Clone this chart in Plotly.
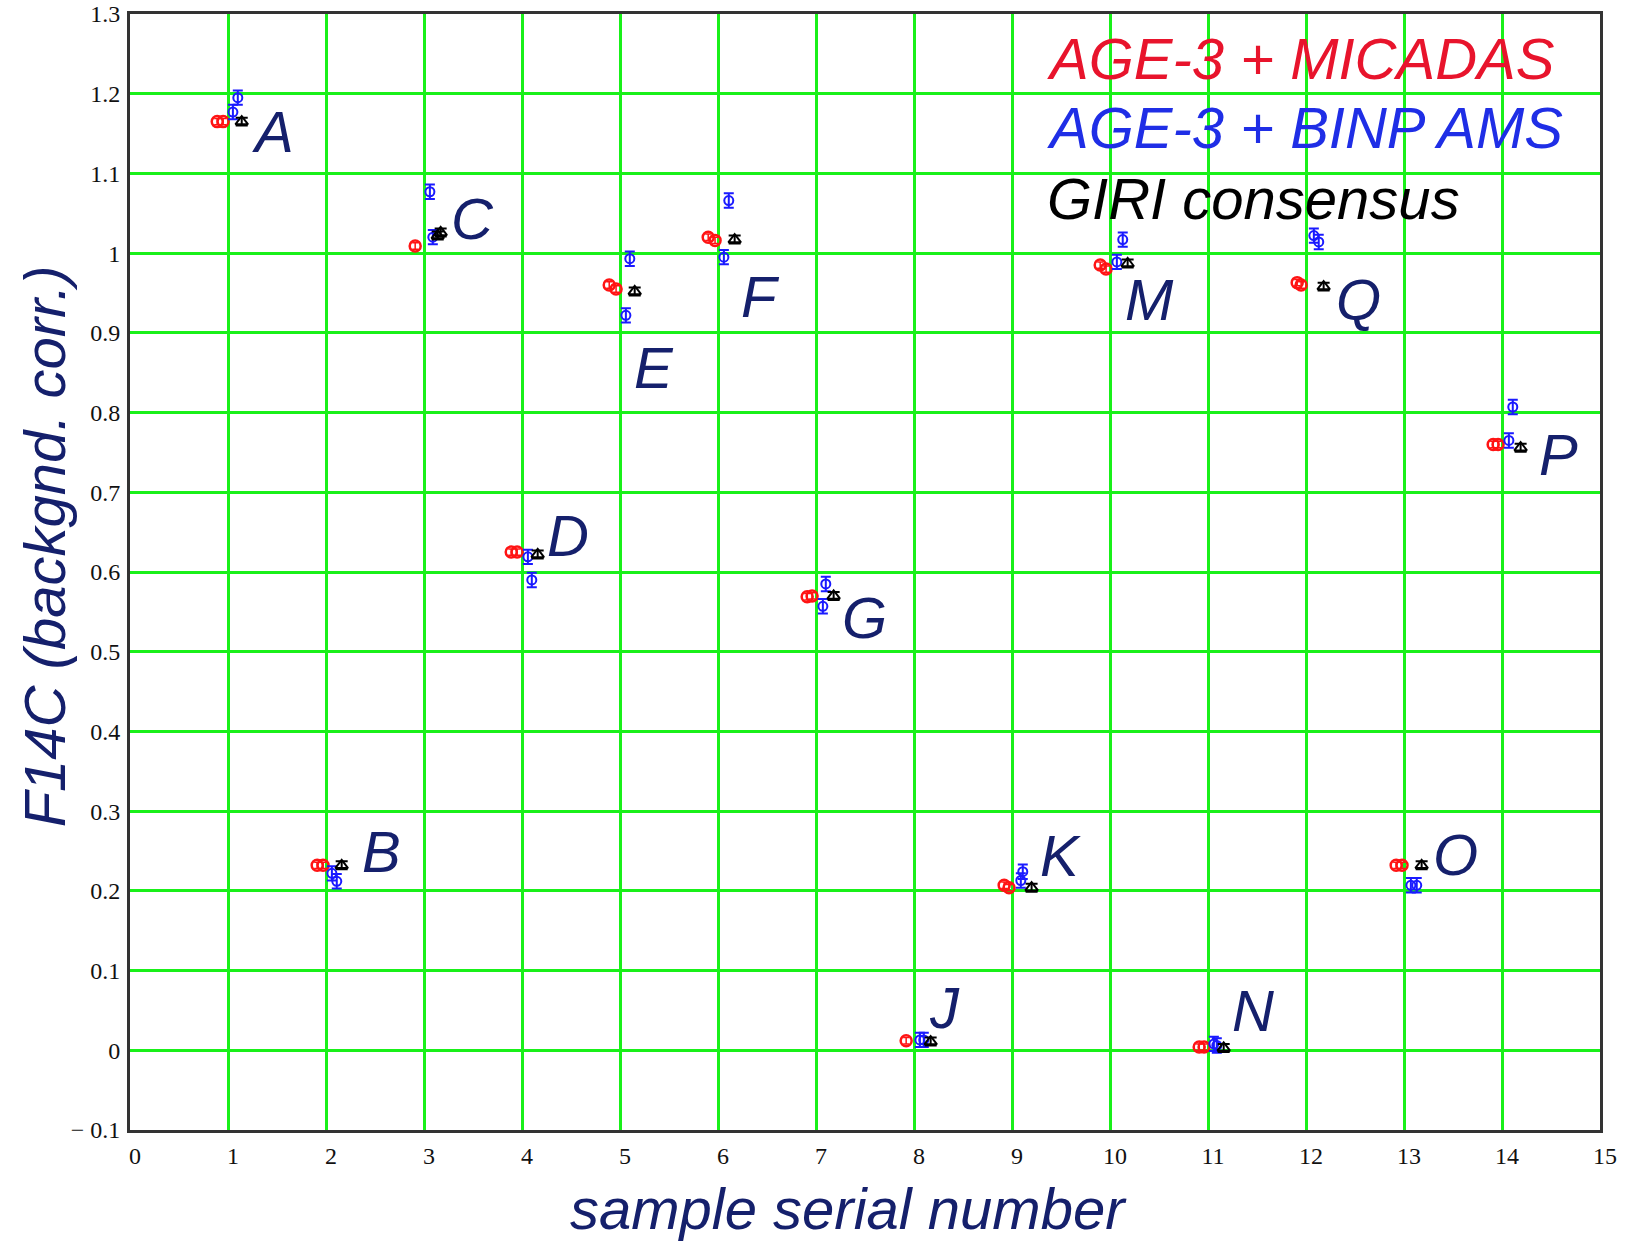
import plotly.graph_objects as go

# ---- data ----
sample_labels = ["A", "B", "C", "D", "E", "F", "G", "J", "K", "M", "N", "O", "P", "Q"]
label_x = [1.46, 2.57, 3.49, 4.47, 5.35, 6.43, 7.49, 8.31, 9.49, 10.40, 11.46, 13.53, 14.58, 12.54]
label_y = [1.153, 0.249, 1.043, 0.646, 0.856, 0.946, 0.543, 0.054, 0.244, 0.942, 0.050, 0.246, 0.747, 0.942]

micadas_x = [0.89, 0.95, 1.91, 1.97, 2.91, 3.89, 3.95, 4.89, 4.96, 5.90, 5.97, 6.91, 6.96,
             7.92, 8.92, 8.97, 9.90, 9.96, 10.91, 10.96, 12.92, 12.98, 13.91, 13.96, 11.91, 11.95]
micadas_y = [1.165, 1.165, 0.232, 0.232, 1.009, 0.625, 0.625, 0.960, 0.955, 1.020, 1.016, 0.569, 0.570,
             0.012, 0.207, 0.204, 0.985, 0.980, 0.004, 0.004, 0.232, 0.232, 0.760, 0.760, 0.963, 0.960]

binp_x = [1.05, 1.10, 2.06, 2.11, 3.06, 3.09, 4.06, 4.10, 5.10, 5.06, 6.11, 6.06, 7.10, 7.07,
          8.06, 8.10, 9.09, 9.11, 10.13, 10.07, 11.06, 11.09, 13.07, 13.13, 14.11, 14.07, 12.08, 12.13]
binp_y = [1.177, 1.195, 0.222, 0.212, 1.077, 1.020, 0.619, 0.590, 0.993, 0.922, 1.066, 0.995, 0.585, 0.557,
          0.013, 0.013, 0.213, 0.224, 1.017, 0.989, 0.008, 0.006, 0.207, 0.207, 0.807, 0.765, 1.022, 1.014]

giri_x = [1.14, 2.16, 3.14, 3.17, 4.16, 5.15, 6.17, 7.18, 8.17, 9.20, 10.18, 11.16, 13.18, 14.19, 12.18]
giri_y = [1.165, 0.232, 1.022, 1.026, 0.622, 0.952, 1.017, 0.570, 0.011, 0.204, 0.987, 0.003, 0.232, 0.756, 0.958]

legend_texts = ["AGE-3 + MICADAS", "AGE-3 + BINP AMS", "GIRI consensus"]
legend_colors = ["#e8142c", "#1f2ee6", "#000000"]

x_ticks = list(range(0, 16))
y_ticks = [-0.1, 0.0, 0.1, 0.2, 0.3, 0.4, 0.5, 0.6, 0.7, 0.8, 0.9, 1.0, 1.1, 1.2, 1.3]
y_ticktext = ["\u2212 0.1", "0", "0.1", "0.2", "0.3", "0.4", "0.5", "0.6", "0.7", "0.8", "0.9", "1", "1.1", "1.2", "1.3"]

NAVY = "#15206c"
GRID = "#19f019"
TITLE_FONT = dict(family="Liberation Sans, Arial", size=58, color=NAVY, style="italic")

fig = go.Figure()

fig.add_trace(go.Scatter(
    x=micadas_x, y=micadas_y, mode="markers", name="AGE-3 + MICADAS",
    marker=dict(symbol="circle-open", size=11, color="#ff1414", line=dict(width=2.5)),
    error_y=dict(type="constant", value=0.004, width=3, thickness=1.5, color="#ff1414"),
))
fig.add_trace(go.Scatter(
    x=binp_x, y=binp_y, mode="markers", name="AGE-3 + BINP AMS",
    marker=dict(symbol="circle-open", size=9, color="#1a1aff", line=dict(width=2)),
    error_y=dict(type="constant", value=0.009, width=5, thickness=2, color="#1a1aff"),
))
fig.add_trace(go.Scatter(
    x=giri_x, y=giri_y, mode="markers", name="GIRI consensus",
    marker=dict(symbol="triangle-up-open", size=11, color="#000000", line=dict(width=2)),
    error_y=dict(type="constant", value=0.005, width=6, thickness=2, color="#000000"),
))

annotations = []
for lab, lx, ly in zip(sample_labels, label_x, label_y):
    annotations.append(dict(
        x=lx, y=ly, xref="x", yref="y", text=lab, showarrow=False,
        font=TITLE_FONT, xanchor="center", yanchor="middle",
    ))

legend_y = [1.244, 1.157, 1.069]
for t, c, ly in zip(legend_texts, legend_colors, legend_y):
    annotations.append(dict(
        x=9.34, y=ly, xref="x", yref="y", text=t, showarrow=False,
        font=dict(TITLE_FONT, color=c), xanchor="left", yanchor="middle",
    ))

annotations.append(dict(
    x=0.489, y=-0.0705, xref="paper", yref="paper", text="sample serial number", showarrow=False,
    font=TITLE_FONT, xanchor="center", yanchor="middle",
))
annotations.append(dict(
    x=-0.0585, y=0.523, xref="paper", yref="paper", text="F14C (backgnd. corr.)", showarrow=False,
    textangle=-90, font=TITLE_FONT, xanchor="center", yanchor="middle",
))

fig.update_layout(
    width=1636, height=1242,
    margin=dict(l=130, r=36, t=14, b=112),
    paper_bgcolor="white", plot_bgcolor="white",
    showlegend=False,
    annotations=annotations,
)
fig.update_xaxes(
    range=[0, 15], tickvals=x_ticks, ticktext=[str(v) for v in x_ticks],
    showgrid=True, gridcolor=GRID, gridwidth=2.5, automargin=False,
    zeroline=False, showline=True, linecolor="#333333", linewidth=3, mirror=True,
    ticks="", tickfont=dict(family="Liberation Serif, Times New Roman", size=24, color="#111111"),
    ticklabelshift=5, ticklabelstandoff=2, ticklabeloverflow="allow",
)
fig.update_yaxes(
    range=[-0.1, 1.3], tickvals=y_ticks, ticktext=y_ticktext,
    showgrid=True, gridcolor=GRID, gridwidth=2.5, automargin=False,
    zeroline=False, showline=True, linecolor="#333333", linewidth=3, mirror=True,
    ticks="", tickfont=dict(family="Liberation Serif, Times New Roman", size=24, color="#111111"),
    ticklabelstandoff=2, ticklabeloverflow="allow",
)

fig.write_html("out.html", config={"displayModeBar": False},
               post_script="document.body.style.margin='0px';")
